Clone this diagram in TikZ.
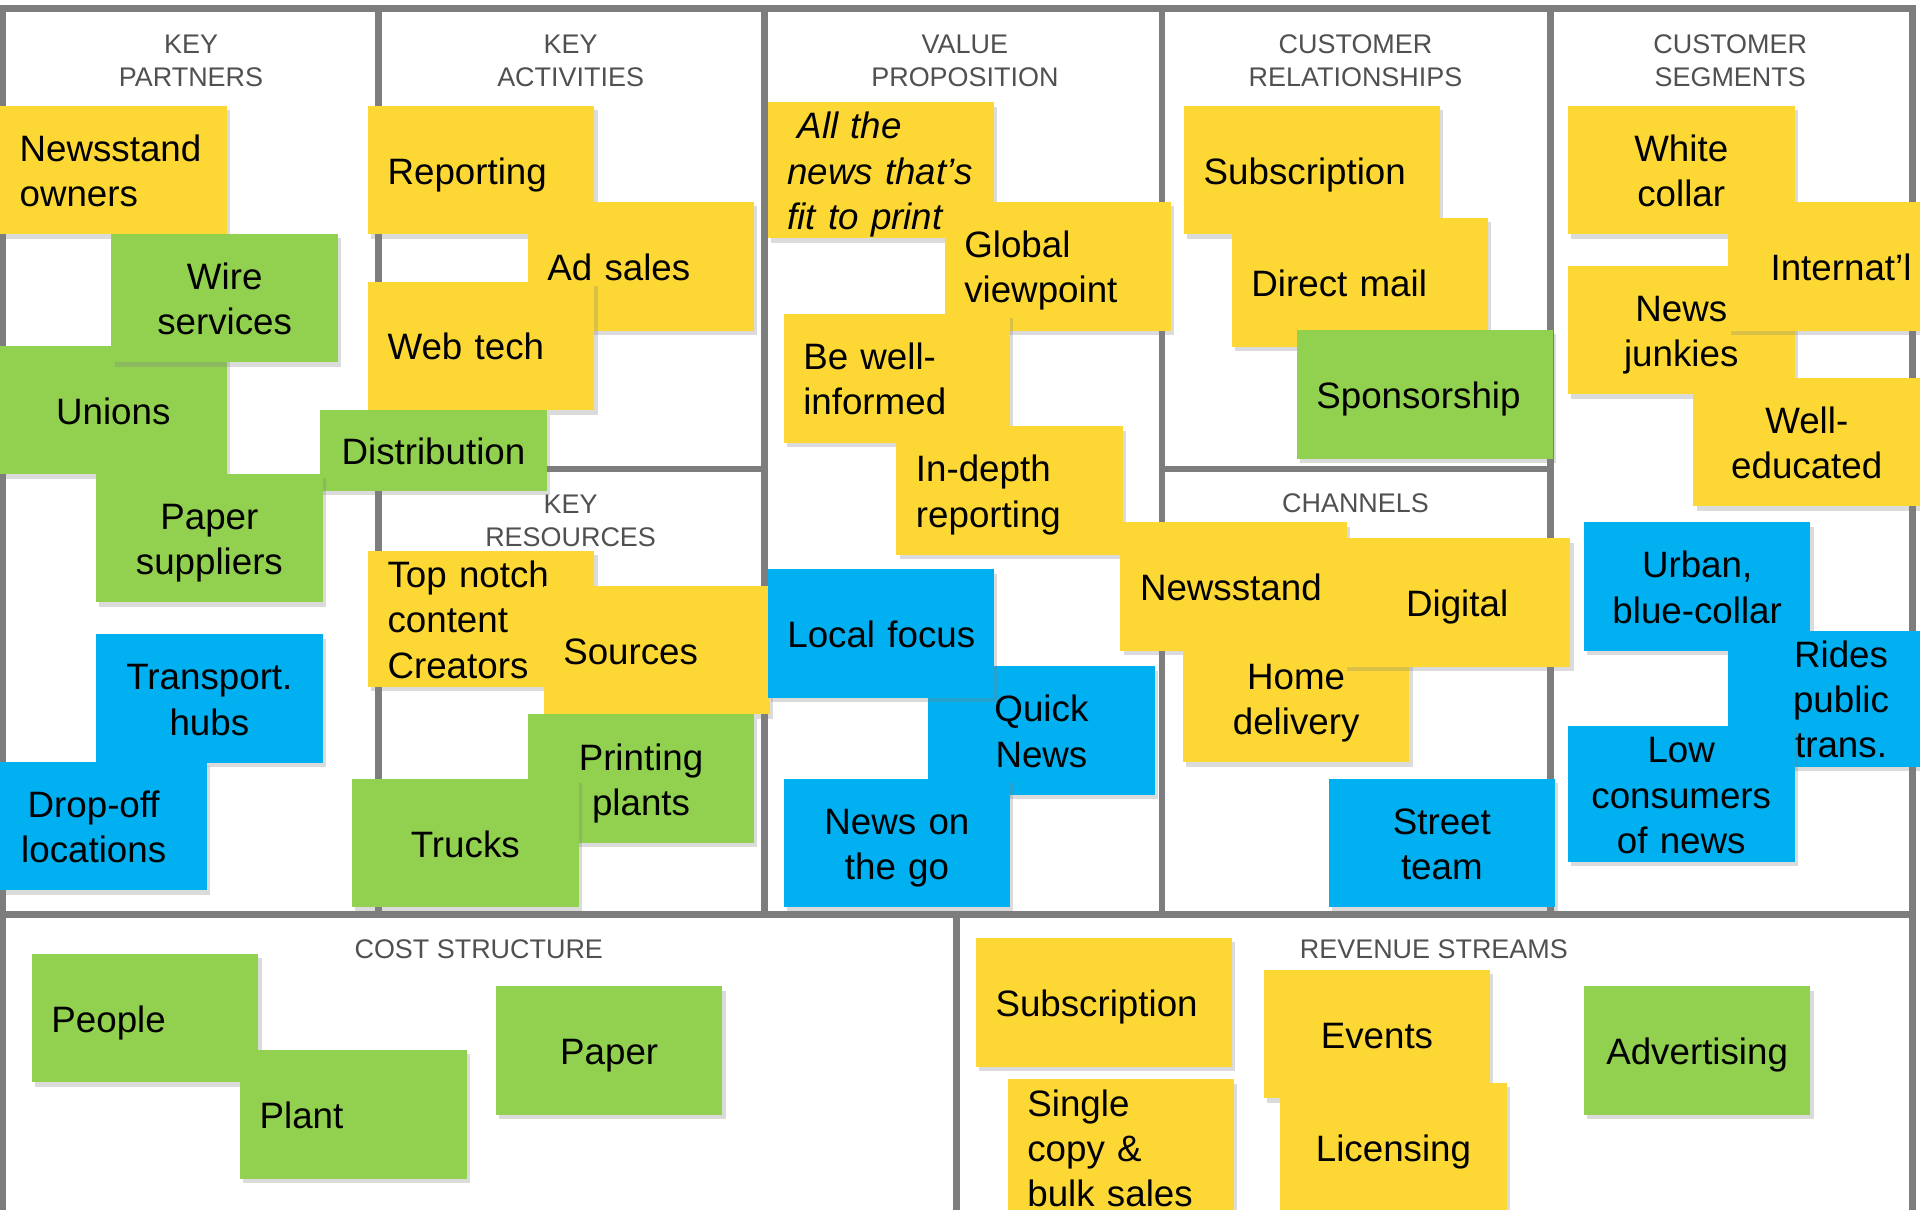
\documentclass[tikz,border=0pt]{standalone}
\usepackage{fontspec}
\setmainfont{Liberation Sans}
\newfontfamily\headfont{Liberation Sans}
\usetikzlibrary{shadows}
\definecolor{stky}{RGB}{253,216,53}
\definecolor{sgreen}{RGB}{146,208,80}
\definecolor{sblue}{RGB}{0,176,240}
\definecolor{framegray}{RGB}{125,125,125}
\definecolor{headgray}{RGB}{80,80,80}
\hyphenpenalty=10000
\newcommand\topstrut{\rule{0pt}{14.95pt}}
\newcommand\botstrut{\rule[-3.55pt]{0pt}{3.55pt}}
\begin{document}
\begin{tikzpicture}[x=0.5pt,y=-0.5pt,
  note/.style={rectangle, inner sep=0pt, minimum width=92.5pt, minimum height=52.5pt,
    text width=76.5pt, font=\fontsize{15pt}{18.5pt}\selectfont,
    execute at begin node=\topstrut, execute at end node=\botstrut,
    drop shadow={shadow xshift=1.3pt, shadow yshift=-1.8pt, opacity=0.28}},
  wnote/.style={note, minimum width=104.5pt, text width=88.5pt},
  yel/.style={fill=stky}, grn/.style={fill=sgreen}, blu/.style={fill=sblue},
  lft/.style={align=left}, ctr/.style={align=center},
  hd/.style={font=\headfont\fontsize{11pt}{13.5pt}\selectfont, text=headgray, align=center},
  frm/.style={draw=framegray, line width=2.8pt, line cap=rect}]
\useasboundingbox (0,0) rectangle (1568,988);
\fill[white] (0,0) rectangle (1568,988);
\begin{scope}
\clip (0,0) rectangle (1568,988);
% frame
\draw[frm] (2,7) -- (1562,7);
\draw[frm] (2,7) -- (2,990);
\draw[frm] (1562,7) -- (1562,990);
\draw[frm] (2,747) -- (1562,747);
\draw[frm] (309,7) -- (309,747);
\draw[frm] (624,7) -- (624,747);
\draw[frm] (949,7) -- (949,747);
\draw[frm] (1266,7) -- (1266,747);
\draw[frm] (309,383) -- (624,383);
\draw[frm] (949,383) -- (1266,383);
\draw[frm] (781,747) -- (781,990);
% headings
\node[hd] (hkp) at (156,49.5) {KEY\\PARTNERS};
\node[hd] (hka) at (466,49.5) {KEY\\ACTIVITIES};
\node[hd] (hvp) at (788,49.5) {VALUE\\PROPOSITION};
\node[hd] (hcr) at (1107,49.5) {CUSTOMER\\RELATIONSHIPS};
\node[hd] (hcs) at (1413,49.5) {CUSTOMER\\SEGMENTS};
\node[hd] (hkr) at (466,425) {KEY\\RESOURCES};
\node[hd] (hch) at (1107,411) {CHANNELS};
\node[hd] (hco) at (391,775) {COST STRUCTURE};
\node[hd] (hrs) at (1171,775) {REVENUE STREAMS};
% key activities
\node[note,yel,lft] (reporting) at (393,139) {Reporting};
\node[note,yel,lft] (adsales) at (523.5,217.5) {Ad sales};
\node[note,yel,lft] (webtech) at (393,282.5) {Web tech};
\node[note,grn,ctr,minimum height=33pt] (dist) at (354,368) {Distribution};
% key partners
\node[note,yel,lft] (owners) at (92.5,139) {Newsstand\\owners};
\node[note,grn,ctr] (unions) at (92.5,335) {Unions};
\node[note,grn,ctr] (wire) at (183.5,243.5) {Wire\\services};
\node[note,grn,ctr] (papersup) at (171,439.5) {Paper\\suppliers};
\node[note,blu,ctr] (hubs) at (171,570.5) {Transport.\\hubs};
\node[note,blu,ctr] (dropoff) at (76.5,674.5) {Drop-off\\locations};
% key resources
\node[note,yel,lft] (topnotch) at (393,505.5) {Top notch\\content\\Creators};
\node[note,yel,lft] (sources) at (536.5,531) {Sources};
\node[note,grn,ctr] (printing) at (523.5,636) {Printing\\plants};
\node[note,grn,ctr] (trucks) at (380,688.5) {Trucks};
% value proposition
\node[note,yel,lft,font=\fontsize{15pt}{18.5pt}\selectfont\itshape] (allnews) at (719.5,139) {\hspace*{4.2pt}All the\\news that’s\\fit to print};
\node[note,yel,lft] (global) at (864,217.5) {Global\\viewpoint};
\node[note,yel,lft] (bewell) at (732.5,309) {Be well-\\informed};
\node[note,yel,lft] (indepth) at (824.5,400.5) {In-depth\\reporting};
\node[note,blu,ctr] (quick) at (850.5,596.5) {Quick\\News};
\node[note,blu,lft] (local) at (719.5,517.5) {\mbox{Local focus}};
\node[note,blu,ctr] (onthego) at (732.5,688.5) {News on\\the go};
% customer relationships
\node[wnote,yel,lft] (crsub) at (1071.5,139) {Subscription};
\node[wnote,yel,lft] (direct) at (1110.5,230.5) {Direct mail};
\node[wnote,grn,lft] (sponsor) at (1163.5,322) {Sponsorship};
% channels
\node[note,yel,lft] (newsstand) at (1007.5,479) {Newsstand};
\node[note,yel,ctr] (homedel) at (1058.5,570) {Home\\delivery};
\node[note,yel,ctr] (digital) at (1190,492) {Digital};
\node[note,blu,ctr] (street) at (1177.5,688.5) {Street\\team};
% customer segments
\node[note,yel,ctr] (white) at (1373,139) {White\\collar};
\node[note,yel,ctr] (junkies) at (1373,269.5) {News\\junkies};
\node[note,yel,ctr] (intl) at (1503.5,217.5) {Internat’l};
\node[note,yel,ctr] (welledu) at (1475.5,361) {Well-\\educated};
\node[note,blu,ctr] (urban) at (1386,479) {Urban,\\blue-collar};
\node[note,blu,ctr] (rides) at (1503.5,570.5) {Rides\\public\\trans.};
\node[note,blu,ctr] (low) at (1373,648.5) {Low\\consumers\\of news};
% cost structure
\node[note,grn,lft] (people) at (118.5,831.5) {People};
\node[note,grn,lft] (plant) at (288.5,910) {Plant};
\node[note,grn,ctr] (paper) at (497.5,858) {Paper};
% revenue streams
\node[wnote,yel,lft] (rssub) at (901.5,818.5) {Subscription};
\node[note,yel,lft] (single) at (915.5,937) {Single\\copy \&\\bulk sales};
\node[note,yel,ctr] (events) at (1124.5,844.5) {Events};
\node[note,yel,ctr] (licensing) at (1138,937) {Licensing};
\node[note,grn,ctr] (advert) at (1386,858) {Advertising};
\end{scope}
\end{tikzpicture}
\end{document}
